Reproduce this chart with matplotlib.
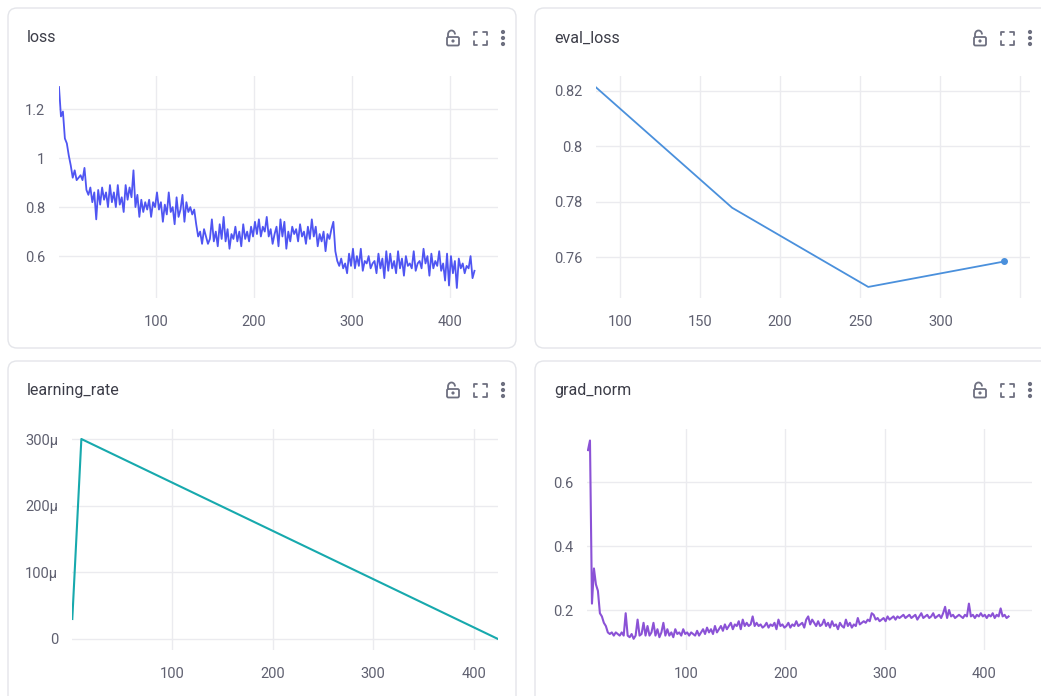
import numpy as np
import matplotlib
matplotlib.use('Agg')
import matplotlib.pyplot as plt
from matplotlib.patches import FancyBboxPatch, Arc, Circle

plt.rcParams['font.family'] = ['Roboto', 'DejaVu Sans']

# ---- data ----
loss_steps = np.arange(1, 426, 2)
loss_vals = [
    1.29, 1.17, 1.19, 1.08, 1.06, 1.01, 0.97, 0.92, 0.95, 0.91,
    0.92, 0.93, 0.91, 0.96, 0.87, 0.85, 0.88, 0.82, 0.86, 0.75,
    0.87, 0.81, 0.88, 0.83, 0.86, 0.80, 0.89, 0.82, 0.86, 0.80,
    0.89, 0.81, 0.84, 0.78, 0.89, 0.83, 0.88, 0.84, 0.95, 0.80,
    0.85, 0.76, 0.83, 0.78, 0.82, 0.79, 0.83, 0.76, 0.82, 0.80,
    0.86, 0.79, 0.82, 0.74, 0.81, 0.77, 0.86, 0.78, 0.80, 0.73,
    0.84, 0.76, 0.79, 0.85, 0.74, 0.82, 0.78, 0.80, 0.77, 0.79,
    0.73, 0.68, 0.70, 0.65, 0.71, 0.68, 0.65, 0.67, 0.75, 0.66,
    0.70, 0.64, 0.73, 0.67, 0.76, 0.66, 0.71, 0.63, 0.69, 0.67,
    0.72, 0.66, 0.70, 0.64, 0.73, 0.67, 0.70, 0.66, 0.72, 0.68,
    0.74, 0.69, 0.75, 0.68, 0.72, 0.70, 0.76, 0.68, 0.71, 0.65,
    0.69, 0.72, 0.64, 0.75, 0.68, 0.74, 0.63, 0.70, 0.66, 0.72,
    0.69, 0.71, 0.66, 0.73, 0.68, 0.70, 0.65, 0.72, 0.67, 0.75,
    0.68, 0.72, 0.64, 0.69, 0.66, 0.70, 0.62, 0.69, 0.67, 0.71,
    0.74, 0.62, 0.58, 0.56, 0.59, 0.55, 0.57, 0.53, 0.61, 0.56,
    0.63, 0.55, 0.60, 0.56, 0.63, 0.54, 0.58, 0.57, 0.60, 0.55,
    0.57, 0.58, 0.53, 0.61, 0.55, 0.59, 0.51, 0.62, 0.54, 0.61,
    0.55, 0.58, 0.53, 0.62, 0.55, 0.59, 0.52, 0.60, 0.56, 0.57,
    0.55, 0.62, 0.54, 0.57, 0.58, 0.55, 0.63, 0.57, 0.60, 0.52,
    0.61, 0.55, 0.58, 0.56, 0.62, 0.54, 0.57, 0.50, 0.61, 0.48,
    0.60, 0.53, 0.58, 0.47, 0.59, 0.55, 0.57, 0.53, 0.56, 0.55,
    0.60, 0.51, 0.54,
]

eval_steps = [85, 170, 255, 340]
eval_vals = [0.8213, 0.7778, 0.7492, 0.7584]

lr_steps = [1, 10, 424]
lr_vals = [3e-5, 3e-4, 0.0]

grad_steps = np.arange(1, 426, 2)
grad_vals = [
    0.70, 0.73, 0.22, 0.33, 0.28, 0.26, 0.19, 0.18, 0.16, 0.15,
    0.13, 0.125, 0.13, 0.12, 0.13, 0.125, 0.12, 0.13, 0.12, 0.19,
    0.12, 0.115, 0.125, 0.11, 0.12, 0.17, 0.12, 0.125, 0.16, 0.12,
    0.15, 0.12, 0.13, 0.16, 0.12, 0.14, 0.115, 0.13, 0.16, 0.12,
    0.14, 0.12, 0.13, 0.115, 0.14, 0.125, 0.13, 0.12, 0.14, 0.125,
    0.13, 0.12, 0.13, 0.125, 0.12, 0.135, 0.12, 0.13, 0.14, 0.125,
    0.145, 0.13, 0.14, 0.125, 0.15, 0.13, 0.14, 0.15, 0.135, 0.155,
    0.14, 0.15, 0.16, 0.14, 0.155, 0.15, 0.165, 0.14, 0.17, 0.15,
    0.16, 0.15, 0.155, 0.18, 0.15, 0.16, 0.15, 0.155, 0.145, 0.15,
    0.16, 0.145, 0.155, 0.15, 0.16, 0.14, 0.17, 0.15, 0.155, 0.145,
    0.15, 0.16, 0.145, 0.155, 0.15, 0.165, 0.15, 0.155, 0.16, 0.145,
    0.17, 0.18, 0.155, 0.17, 0.16, 0.15, 0.165, 0.15, 0.155, 0.17,
    0.15, 0.16, 0.145, 0.165, 0.15, 0.155, 0.14, 0.16, 0.15, 0.145,
    0.17, 0.15, 0.16, 0.145, 0.155, 0.15, 0.175, 0.155, 0.16, 0.165,
    0.16, 0.17, 0.165, 0.19, 0.185, 0.17, 0.175, 0.165, 0.17, 0.175,
    0.165, 0.18, 0.17, 0.175, 0.18, 0.17, 0.18, 0.175, 0.18, 0.185,
    0.175, 0.18, 0.185, 0.175, 0.18, 0.185, 0.17, 0.18, 0.19, 0.175,
    0.18, 0.185, 0.175, 0.18, 0.19, 0.175, 0.18, 0.185, 0.175, 0.19,
    0.21, 0.175, 0.20, 0.18, 0.185, 0.175, 0.18, 0.185, 0.18, 0.175,
    0.185, 0.18, 0.22, 0.18, 0.185, 0.175, 0.185, 0.18, 0.19, 0.18,
    0.185, 0.175, 0.185, 0.18, 0.19, 0.175, 0.185, 0.18, 0.205, 0.18,
    0.185, 0.175, 0.18,
]

W, H = 1041, 696
TICK_C = '#5f6070'
GRID_C = '#ebebef'
ICON_C = '#6e7080'

fig = plt.figure(figsize=(W / 100, H / 100), dpi=100)
fig.patch.set_facecolor('white')

# background layer in pixel coords (y goes down) for cards, titles and icons
bg = fig.add_axes([0, 0, 1, 1], zorder=0)
bg.set_xlim(0, W)
bg.set_ylim(H, 0)
bg.axis('off')


def draw_icons(bg, xr, yc):
    # open lock
    xl = xr - 50
    bg.add_patch(FancyBboxPatch((xl - 6, yc - 1), 12, 8.5, boxstyle='round,pad=0,rounding_size=1.5',
                                fc='none', ec=ICON_C, lw=1.3))
    # y axis is inverted here, so 180..360 is the upper half
    bg.add_patch(Arc((xl - 1.5, yc - 3.5), 7, 8, theta1=180, theta2=360, ec=ICON_C, lw=1.3))
    bg.plot([xl - 5, xl - 5], [yc - 3.5, yc - 1], color=ICON_C, lw=1.3)
    bg.add_patch(Circle((xl, yc + 3), 0.9, color=ICON_C))
    # fullscreen brackets
    xf = xr - 23
    s, c = 6.5, 3.5
    for sx in (-1, 1):
        for sy in (-1, 1):
            bg.plot([xf + sx * s, xf + sx * s, xf + sx * (s - c)],
                    [yc + sy * (s - c), yc + sy * s, yc + sy * s],
                    color=ICON_C, lw=1.3, solid_capstyle='round')
    # three dots
    for dy in (-6, 0, 6):
        bg.add_patch(Circle((xr, yc + dy), 1.4, color=ICON_C))


def draw_card(bg, x0, y0, x1, y1, title, title_y, icon_x):
    bg.add_patch(FancyBboxPatch((x0, y0), x1 - x0, y1 - y0,
                                boxstyle='round,pad=0,rounding_size=9',
                                fc='white', ec='#e4e5ea', lw=1.0))
    bg.text(x0 + 19, title_y, title, fontsize=11.5, color='#3c3d48', va='center', ha='left')
    draw_icons(bg, icon_x, title_y)


def make_axes(l, t, r, b):
    ax = fig.add_axes([l / W, 1 - b / H, (r - l) / W, (b - t) / H], zorder=2)
    ax.set_facecolor('none')
    for sp in ax.spines.values():
        sp.set_visible(False)
    ax.grid(True, color=GRID_C, lw=1.0)
    ax.set_axisbelow(True)
    ax.tick_params(length=0, labelsize=10.5, labelcolor=TICK_C)
    ax.tick_params(axis='y', pad=10)
    ax.tick_params(axis='x', pad=12)
    return ax


draw_card(bg, 8, 8, 516, 348, 'loss', 38, 503)
draw_card(bg, 535, 8, 1060, 348, 'eval_loss', 38, 1030)
draw_card(bg, 8, 361, 516, 710, 'learning_rate', 390, 503)
draw_card(bg, 535, 361, 1060, 710, 'grad_norm', 390, 1030)

# loss
ax1 = make_axes(59, 76, 498, 298)
ax1.plot(loss_steps, loss_vals, color='#4f55f2', lw=1.3)
ax1.set_xlim(1, 449)
ax1.set_ylim(0.429, 1.335)
ax1.set_xticks([100, 200, 300, 400])
ax1.set_yticks([0.6, 0.8, 1.0, 1.2])
ax1.set_yticklabels(['0.6', '0.8', '1', '1.2'])

# eval_loss
ax2 = make_axes(596, 76, 1030, 298)
ax2.plot(eval_steps, eval_vals, color='#4a90dc', lw=1.3)
ax2.plot(eval_steps[-1:], eval_vals[-1:], 'o', color='#4a90dc', ms=4)
ax2.set_xlim(85, 356)
ax2.set_ylim(0.7452, 0.8254)
ax2.set_xticks([100, 150, 200, 250, 300, 350])
ax2.set_xticklabels(['100', '150', '200', '250', '300', ''])
ax2.set_yticks([0.76, 0.78, 0.80, 0.82])
ax2.set_yticklabels(['0.76', '0.78', '0.8', '0.82'])

# learning_rate
ax3 = make_axes(72, 429, 498, 650)
ax3.plot(lr_steps, lr_vals, color='#17a9ad', lw=1.5)
ax3.set_xlim(0.7, 424)
ax3.set_ylim(-16.5e-6, 315e-6)
ax3.set_xticks([100, 200, 300, 400])
ax3.set_yticks([0, 100e-6, 200e-6, 300e-6])
ax3.set_yticklabels(['0', '100μ', '200μ', '300μ'])

# grad_norm
ax4 = make_axes(587, 429, 1032, 650)
ax4.plot(grad_steps, grad_vals, color='#8b52d6', lw=1.5)
ax4.set_xlim(0, 448.6)
ax4.set_ylim(0.075, 0.766)
ax4.set_xticks([100, 200, 300, 400])
ax4.set_yticks([0.2, 0.4, 0.6])
ax4.set_yticklabels(['0.2', '0.4', '0.6'])

fig.savefig('out.png', dpi=100, facecolor='white')
